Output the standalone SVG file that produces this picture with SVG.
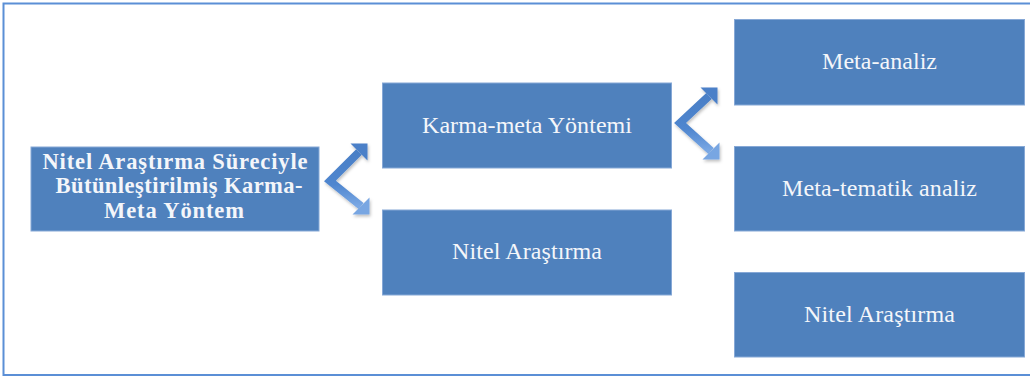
<svg xmlns="http://www.w3.org/2000/svg" width="1030" height="378" viewBox="0 0 1030 378">
<defs>
<style>
.box{fill:#4f81bd;stroke:#86a8d6;stroke-width:1}
.t{font-family:"Liberation Serif","Times New Roman",serif;font-size:24px;fill:#f4f6fa;text-anchor:middle}
.tb{font-family:"Liberation Serif","Times New Roman",serif;font-size:22.5px;font-weight:bold;fill:#f4f6fa;text-anchor:middle}
.shaft{fill:none;stroke:url(#ag);stroke-width:8;stroke-linejoin:miter}
</style>
<linearGradient id="ag" gradientUnits="objectBoundingBox" x1="0" y1="0" x2="0" y2="1">
<stop offset="0" stop-color="#4a7fc6"/>
<stop offset="0.6" stop-color="#4f86cf"/>
<stop offset="1" stop-color="#7aa8e4"/>
</linearGradient>
<filter id="sh" x="-30%" y="-30%" width="160%" height="160%">
<feDropShadow dx="1" dy="2" stdDeviation="1.5" flood-color="#000" flood-opacity="0.25"/>
</filter>
</defs>
<rect x="3.5" y="3.5" width="1040" height="371.5" fill="#fff" stroke="#5b8fd6" stroke-width="2"/>
<g id="node-root"><rect class="box" x="31" y="147" width="288" height="84"/>
<text class="tb" x="175" y="169.3" textLength="265">Nitel Araştırma Süreciyle</text>
<text class="tb" x="179" y="193.3" textLength="247">Bütünleştirilmiş Karma-</text>
<text class="tb" x="174" y="218.3" textLength="140">Meta Yöntem</text></g>
<g id="node-karma"><rect class="box" x="382.5" y="83" width="289" height="85"/>
<text class="t" x="527" y="133.3" textLength="210">Karma-meta Yöntemi</text></g>
<g id="node-nitel-mid"><rect class="box" x="382.5" y="210" width="289" height="85"/>
<text class="t" x="527" y="259" textLength="150">Nitel Araştırma</text></g>
<g id="node-meta-analiz"><rect class="box" x="734.5" y="19.5" width="290" height="85.5"/>
<text class="t" x="879.5" y="69.3" textLength="115">Meta-analiz</text></g>
<g id="node-meta-tematik"><rect class="box" x="734.5" y="146.5" width="290" height="84.5"/>
<text class="t" x="879.5" y="196" textLength="195">Meta-tematik analiz</text></g>
<g id="node-nitel-right"><rect class="box" x="734.5" y="272.5" width="290" height="84.5"/>
<text class="t" x="879.5" y="321.7" textLength="151">Nitel Araştırma</text></g>
<g id="connectors" filter="url(#sh)">
<g>
<path class="shaft" d="M359,152 L330,181 L361,206"/>
<polygon fill="#4b80c8" points="367.5,143.5 367.5,160.5 350.5,143.5"/>
<polygon fill="#78a6e2" points="369.5,214.5 369.5,197.5 352.5,214.5"/>
</g>
<g>
<path class="shaft" d="M709,96 L680,123 L711,151"/>
<polygon fill="#4b80c8" points="717.5,87.5 717.5,104.5 700.5,87.5"/>
<polygon fill="#78a6e2" points="719.5,159.5 719.5,142.5 702.5,159.5"/>
</g>
</g>
</svg>
